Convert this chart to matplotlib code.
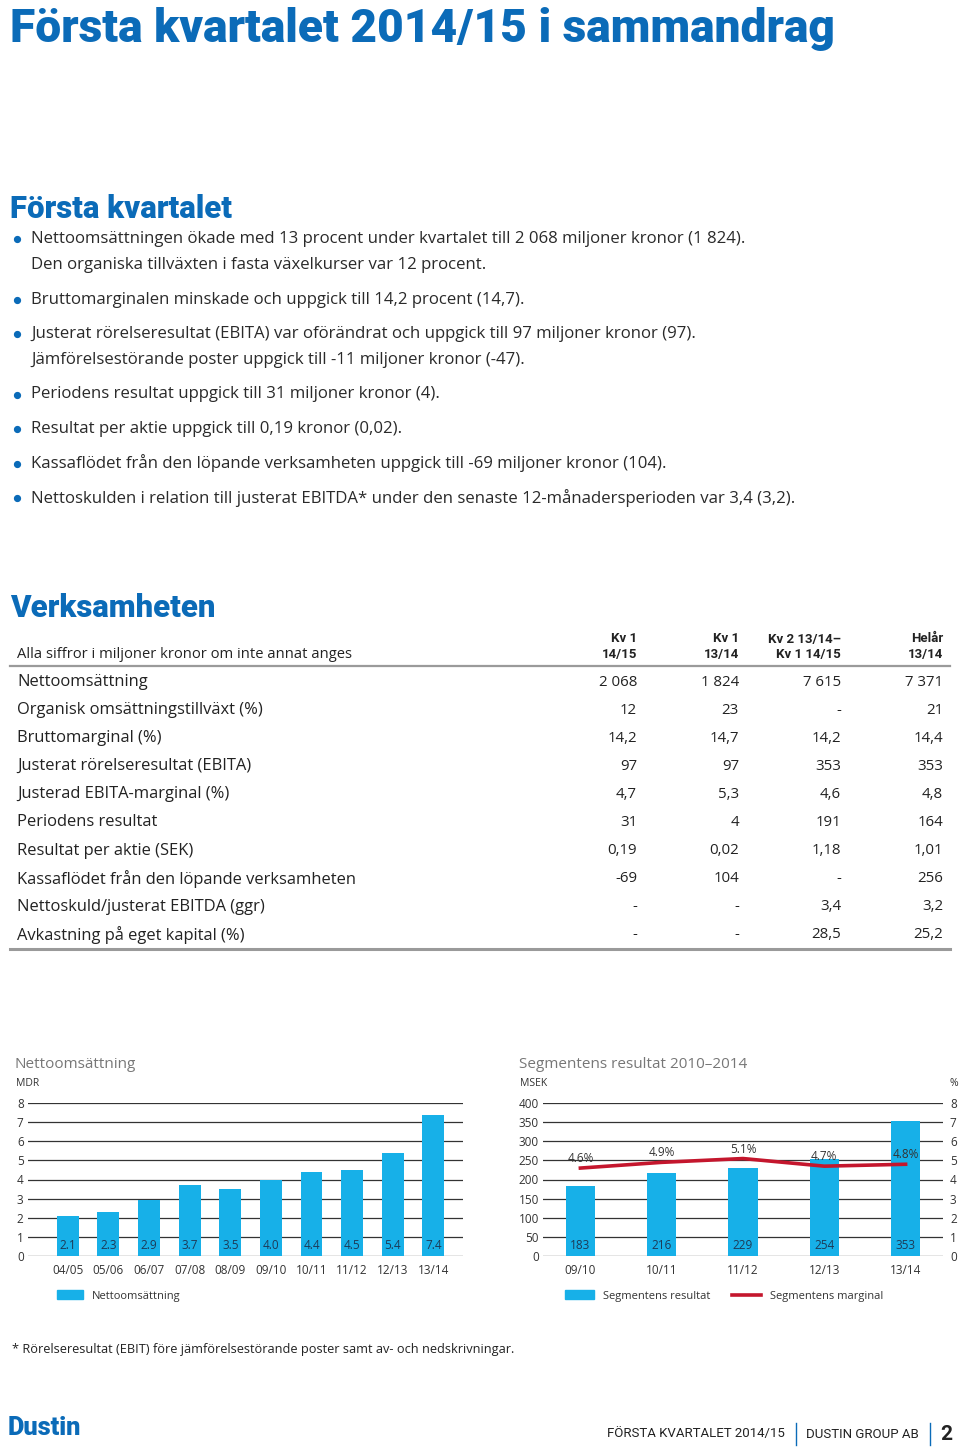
import numpy as np
import matplotlib
matplotlib.use("Agg")
import matplotlib.pyplot as plt
from matplotlib.lines import Line2D
from matplotlib.patches import Patch

plt.rcParams['font.family'] = ['Open Sans', 'DejaVu Sans']

# --- data ---
bullets = [
    ["Nettoomsättningen ökade med 13 procent under kvartalet till 2 068 miljoner kronor (1 824).",
     "Den organiska tillväxten i fasta växelkurser var 12 procent."],
    ["Bruttomarginalen minskade och uppgick till 14,2 procent (14,7)."],
    ["Justerat rörelseresultat (EBITA) var oförändrat och uppgick till 97 miljoner kronor (97).",
     "Jämförelsestörande poster uppgick till -11 miljoner kronor (-47)."],
    ["Periodens resultat uppgick till 31 miljoner kronor (4)."],
    ["Resultat per aktie uppgick till 0,19 kronor (0,02)."],
    ["Kassaflödet från den löpande verksamheten uppgick till -69 miljoner kronor (104)."],
    ["Nettoskulden i relation till justerat EBITDA* under den senaste 12-månadersperioden var 3,4 (3,2)."],
]

table_cols = [("Kv 1", "14/15"), ("Kv 1", "13/14"), ("Kv 2 13/14–", "Kv 1 14/15"), ("Helår", "13/14")]
table_rows = [
    "Nettoomsättning",
    "Organisk omsättningstillväxt (%)",
    "Bruttomarginal (%)",
    "Justerat rörelseresultat (EBITA)",
    "Justerad EBITA-marginal (%)",
    "Periodens resultat",
    "Resultat per aktie (SEK)",
    "Kassaflödet från den löpande verksamheten",
    "Nettoskuld/justerat EBITDA (ggr)",
    "Avkastning på eget kapital (%)",
]
table_vals = [
    ["2 068", "1 824", "7 615", "7 371"],
    ["12", "23", "-", "21"],
    ["14,2", "14,7", "14,2", "14,4"],
    ["97", "97", "353", "353"],
    ["4,7", "5,3", "4,6", "4,8"],
    ["31", "4", "191", "164"],
    ["0,19", "0,02", "1,18", "1,01"],
    ["-69", "104", "-", "256"],
    ["-", "-", "3,4", "3,2"],
    ["-", "-", "28,5", "25,2"],
]

sales_years = ["04/05", "05/06", "06/07", "07/08", "08/09", "09/10", "10/11", "11/12", "12/13", "13/14"]
sales_mdr = [2.1, 2.3, 2.9, 3.7, 3.5, 4.0, 4.4, 4.5, 5.4, 7.4]

seg_years = ["09/10", "10/11", "11/12", "12/13", "13/14"]
seg_result = [183, 216, 229, 254, 353]
seg_margin = [4.6, 4.9, 5.1, 4.7, 4.8]

BLUE = "#0b6bb8"
CYAN = "#17b0e8"
RED = "#c4162d"
TXT = "#222222"
VALTXT = "#1d3a57"
HEAD = ['Roboto', 'DejaVu Sans']

W, H = 960, 1452
fig = plt.figure(figsize=(W / 100, H / 100), dpi=100)


def fx(x):
    return x / W


def fy(y):
    return 1 - y / H


def txt(x, y, s, **kw):
    kw.setdefault("va", "center")
    kw.setdefault("color", TXT)
    fig.text(fx(x), fy(y), s, **kw)


def hline(x0, x1, y, **kw):
    fig.add_artist(Line2D([fx(x0), fx(x1)], [fy(y), fy(y)], transform=fig.transFigure, **kw))


# --- headings ---
txt(10, 29, "Första kvartalet 2014/15 i sammandrag", fontsize=33.2, fontweight=900,
    color=BLUE, family=HEAD)
txt(10, 209, "Första kvartalet", fontsize=22.4, fontweight=900, color=BLUE, family=HEAD)
txt(10, 608, "Verksamheten", fontsize=22.4, fontweight=900, color=BLUE, family=HEAD)

# --- bullets ---
y = 239
for b in bullets:
    fig.add_artist(Line2D([fx(17)], [fy(y)], marker="o", ms=4.2, color=BLUE,
                          transform=fig.transFigure))
    for line in b:
        txt(31, y, line, fontsize=12.1, color="#2a2a2a")
        y += 26
    y += 8.5

# --- table ---
col_x = [637, 739, 841, 943]
txt(17, 655, "Alla siffror i miljoner kronor om inte annat anges", fontsize=10.6)
for cx, (a, b) in zip(col_x, table_cols):
    txt(cx, 639, a, fontsize=9.5, fontweight="bold", ha="right", family=HEAD)
    txt(cx, 655, b, fontsize=9.5, fontweight="bold", ha="right", family=HEAD)
hline(10, 950, 666, color="#9a9a9a", lw=1.6)
for i, (lab, vals) in enumerate(zip(table_rows, table_vals)):
    ry = 682 + i * 28.1
    txt(17, ry, lab, fontsize=11.9)
    for cx, v in zip(col_x, vals):
        txt(cx, ry, v, fontsize=10.8, ha="right")
hline(10, 950, 949, color="#9a9a9a", lw=2.2)

# --- chart 1: Nettoomsättning ---
y0, y1 = 1255.7, 1103.3
ax1 = fig.add_axes([fx(28), fy(y0), (463 - 28) / W, (y0 - y1) / H])
x1 = np.arange(len(sales_years))
ax1.bar(x1, sales_mdr, width=0.54, color=CYAN, zorder=2)
for xi, v in zip(x1, sales_mdr):
    ax1.text(xi, 0.55, f"{v:.1f}", ha="center", va="center", fontsize=8.5, color=VALTXT, zorder=3)
ax1.set_xlim(-0.98, 9.73)
ax1.set_ylim(0, 8)
ax1.set_yticks(range(0, 9))
ax1.set_xticks(x1, sales_years)
ax1.yaxis.grid(True, color="#333333", lw=0.9)
ax1.set_axisbelow(True)
for s in ax1.spines.values():
    s.set_visible(False)
ax1.tick_params(length=0, labelsize=8.5, colors="#333333")
ax1.tick_params(axis="x", pad=6)
for t in ax1.get_yticklabels():
    t.set_horizontalalignment("left")
ax1.yaxis.set_tick_params(pad=8)
txt(15, 1064, "Nettoomsättning", fontsize=11, color="#777777")
txt(16, 1084, "MDR", fontsize=7.5, color="#333333")
ax1.legend(handles=[Patch(color=CYAN, label="Nettoomsättning")], loc="center left",
           bbox_to_anchor=(fx(57), fy(1296)), bbox_transform=fig.transFigure, frameon=False,
           fontsize=8, handlelength=2.3, handleheight=0.8, borderpad=0, borderaxespad=0,
           labelcolor="#333333")

# --- chart 2: Segmentens resultat ---
ax2 = fig.add_axes([fx(543), fy(y0), (943 - 543) / W, (y0 - y1) / H])
x2 = np.arange(len(seg_years))
ax2.bar(x2, seg_result, width=0.36, color=CYAN, zorder=2)
for xi, v in zip(x2, seg_result):
    ax2.text(xi, 28, str(v), ha="center", va="center", fontsize=8.5, color=VALTXT, zorder=3)
ax2.set_xlim(-0.46, 4.46)
ax2.set_ylim(0, 400)
ax2.set_yticks(range(0, 401, 50))
ax2.set_xticks(x2, seg_years)
ax2.yaxis.grid(True, color="#333333", lw=0.9)
ax2.set_axisbelow(True)
for s in ax2.spines.values():
    s.set_visible(False)
ax2.tick_params(length=0, labelsize=8.5, colors="#333333")
ax2.tick_params(axis="y", pad=3)
ax2.tick_params(axis="x", pad=6)

ax2r = ax2.twinx()
ax2r.plot(x2, seg_margin, color=RED, lw=2.6, zorder=4)
for xi, v in zip(x2, seg_margin):
    ax2r.text(xi, v + 0.5, f"{v}%", ha="center", va="center", fontsize=8.5, color="#333333")
ax2r.set_ylim(0, 8)
ax2r.set_yticks(range(0, 9))
for s in ax2r.spines.values():
    s.set_visible(False)
ax2r.tick_params(length=0, labelsize=8.5, colors="#333333", pad=5)

txt(519, 1064, "Segmentens resultat 2010–2014", fontsize=11, color="#777777")
txt(520, 1084, "MSEK", fontsize=7.5, color="#333333")
txt(950, 1083, "%", fontsize=7.5, color="#333333")
ax2.legend(handles=[Patch(color=CYAN, label="Segmentens resultat"),
                    Line2D([], [], color=RED, lw=2.6, label="Segmentens marginal")],
           loc="center left", bbox_to_anchor=(fx(565), fy(1296)), bbox_transform=fig.transFigure,
           frameon=False, fontsize=8, ncol=2, handlelength=2.6, handleheight=0.8,
           columnspacing=2.0, borderpad=0, borderaxespad=0, labelcolor="#333333")

# --- footnote & footer ---
txt(12, 1349, "* Rörelseresultat (EBIT) före jämförelsestörande poster samt av- och nedskrivningar.",
    fontsize=9.2)
txt(8, 1428, "Dustin", fontsize=18.2, fontweight=900, color=BLUE, family=HEAD)
txt(785, 1434, "FÖRSTA KVARTALET 2014/15", fontsize=9.5, ha="right", family=HEAD)
txt(806, 1434, "DUSTIN GROUP AB", fontsize=9.5, family=HEAD)
for sx in (796, 930):
    fig.add_artist(Line2D([fx(sx)] * 2, [fy(1423), fy(1445)], transform=fig.transFigure,
                          color=BLUE, lw=1))
txt(940, 1434, "2", fontsize=15, fontweight="bold", family=HEAD)

fig.savefig("out.png", dpi=100)
